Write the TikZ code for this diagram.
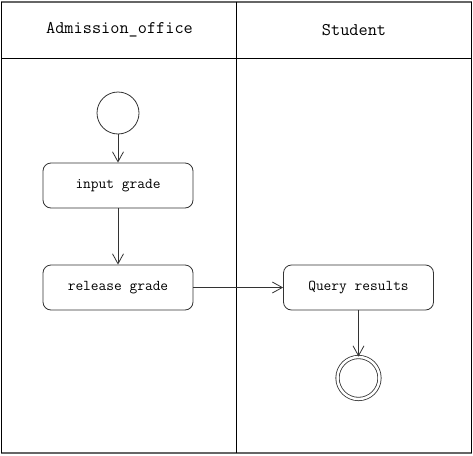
\documentclass[tikz,border=0pt]{standalone}
\usetikzlibrary{arrows.meta}

\tikzset{
  action/.style={draw=black!80, rounded corners=8pt, minimum width=150pt, minimum height=45pt, inner sep=0pt, font=\ttfamily\fontsize{15pt}{17pt}\selectfont},
  initial/.style={draw=black!80, circle, minimum size=42pt, inner sep=0pt},
  final/.style={draw=black!80, circle, double, double distance=2.5pt, minimum size=42pt, inner sep=0pt},
}

\begin{document}
\begin{tikzpicture}[>={Straight Barb[length=10pt,width=11pt]},line width=0.8pt,x=1pt,y=-1pt,font=\ttfamily\fontsize{17.8pt}{20pt}\selectfont]
  \useasboundingbox (0,0) rectangle (473,455);
  % swimlanes
  \fill[white] (0,0) rectangle (473,455);
  \draw[black!60, line width=2pt] (1,1.5) -- (472,1.5);
  \draw[black!60, line width=2pt] (1,452.5) -- (472,452.5);
  \draw (1.5,1.5) -- (1.5,452.5);
  \draw (471.5,1.5) -- (471.5,452.5);
  \draw (236.5,1.5) -- (236.5,452.5);
  \draw (1.5,58) -- (471.5,58);
  \node (office) at (119.5,30) {Admission\_office};
  \node (student) at (354,30) {Student};
  % activities
  \node[initial] (start) at (118,113) {};
  \node[action] (input) at (118,185.5) {input grade};
  \node[action] (release) at (118,287.5) {release grade};
  \node[action] (query) at (358.5,287.5) {Query results};
  \node[final] (stop) at (358.5,378) {};
  \draw[->, draw=black!80] (start) -- (input);
  \draw[->, draw=black!80] (input) -- (release);
  \draw[->, draw=black!80] (release) -- (query);
  \draw[->, draw=black!80] (query) -- (stop);
\end{tikzpicture}
\end{document}
